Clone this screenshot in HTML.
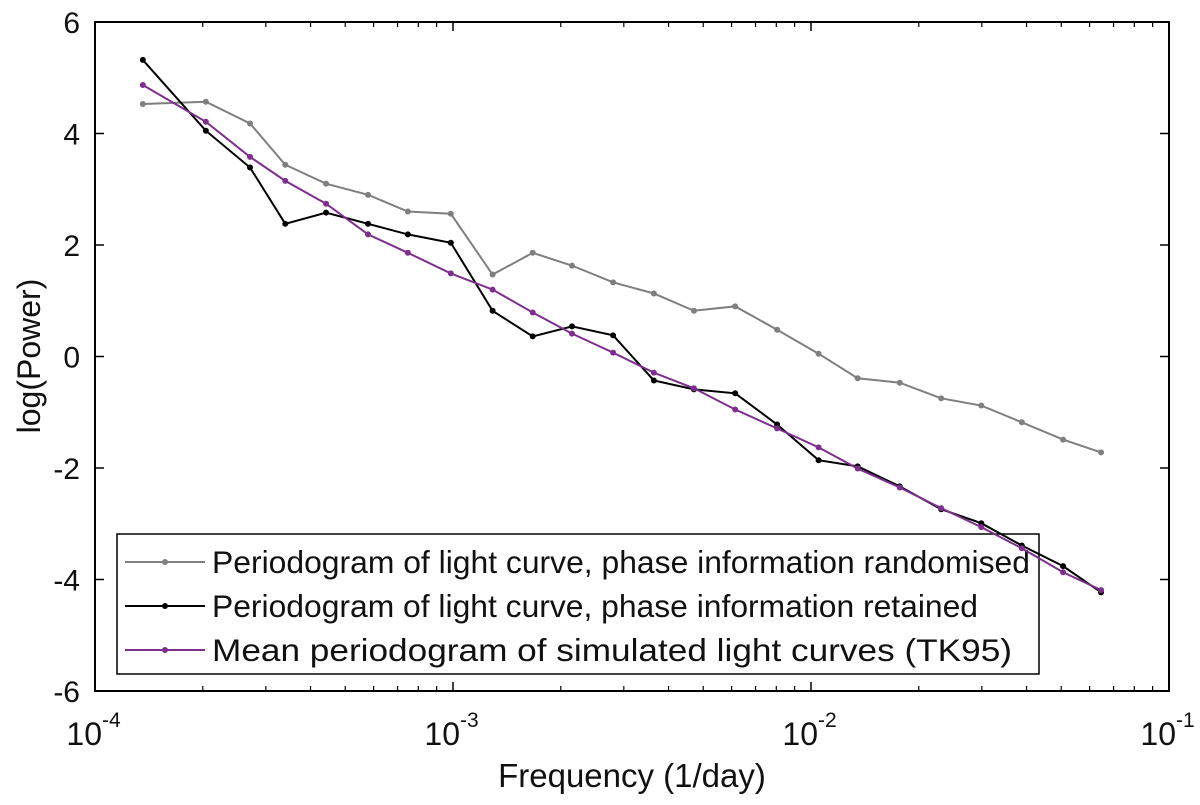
<!DOCTYPE html>
<html><head><meta charset="utf-8"><style>
body{margin:0;background:#fff}
svg text{font-family:"Liberation Sans",Arial,sans-serif;fill:#111}
</style></head><body>
<svg id="chart" width="1200" height="800" xmlns="http://www.w3.org/2000/svg">
<g id="axes"></g>
<g id="legend"></g>
<g id="series"></g>
</svg>
<script>
const freq = [1.36e-4,2.04e-4,2.71e-4,3.40e-4,4.42e-4,5.79e-4,7.48e-4,9.86e-4,1.29e-3,1.67e-3,2.15e-3,2.80e-3,3.64e-3,4.71e-3,6.14e-3,8.04e-3,1.05e-2,1.35e-2,1.77e-2,2.31e-2,2.99e-2,3.88e-2,5.06e-2,6.46e-2];
const randomised = [4.53,4.57,4.18,3.44,3.10,2.90,2.60,2.56,1.47,1.86,1.63,1.33,1.13,0.82,0.90,0.48,0.05,-0.39,-0.47,-0.75,-0.88,-1.18,-1.49,-1.72];
const retained = [5.32,4.05,3.39,2.38,2.58,2.38,2.19,2.04,0.82,0.36,0.54,0.38,-0.43,-0.59,-0.66,-1.22,-1.86,-1.97,-2.33,-2.74,-2.99,-3.39,-3.76,-4.23];
const simulated = [4.87,4.21,3.58,3.15,2.74,2.19,1.86,1.49,1.20,0.79,0.41,0.07,-0.29,-0.57,-0.95,-1.29,-1.63,-2.01,-2.35,-2.72,-3.06,-3.44,-3.87,-4.19];
const yTicks = [-6,-4,-2,0,2,4,6];
const xDecades = [-4,-3,-2,-1];
const legendLabels = ["Periodogram of light curve, phase information randomised","Periodogram of light curve, phase information retained","Mean periodogram of simulated light curves (TK95)"];
const legendWidths = [818,766,800];

const L=95,R=1169,T=22,B=691;
const NS="http://www.w3.org/2000/svg";
function xs(f){return L+(Math.log10(f)+4)/3*(R-L);}
function ys(v){return B-(v+6)/12*(B-T);}
function mk(tag,attrs,parent){const e=document.createElementNS(NS,tag);for(const k in attrs)e.setAttribute(k,attrs[k]);parent.appendChild(e);return e;}
const ax=document.getElementById('axes'),sg=document.getElementById('series'),lg=document.getElementById('legend');

const box=mk('rect',{x:L,y:T,width:R-L,height:B-T,fill:'none',stroke:'#000','stroke-width':2},ax);



yTicks.forEach(v=>{
  const y=ys(v);
  mk('line',{x1:L,x2:L+9,y1:y,y2:y,stroke:'#000','stroke-width':1.5},ax);
  mk('line',{x1:R,x2:R-9,y1:y,y2:y,stroke:'#000','stroke-width':1.5},ax);
  const t=mk('text',{x:L-15,y:y+11,'text-anchor':'end','font-size':30},ax);
  t.textContent=v;
  
  
});
xDecades.forEach((d,i)=>{
  const x=xs(Math.pow(10,d));
  mk('line',{x1:x,x2:x,y1:B,y2:B-9,stroke:'#000','stroke-width':1.5},ax);
  mk('line',{x1:x,x2:x,y1:T,y2:T+9,stroke:'#000','stroke-width':1.5},ax);
  if(i<xDecades.length-1){for(let m=2;m<10;m++){const xm=xs(m*Math.pow(10,d));
    mk('line',{x1:xm,x2:xm,y1:B,y2:B-5,stroke:'#000','stroke-width':1.2},ax);
    mk('line',{x1:xm,x2:xm,y1:T,y2:T+5,stroke:'#000','stroke-width':1.2},ax);}}
  const t=mk('text',{x:x+7,y:745,'text-anchor':'end','font-size':32},ax);
  t.textContent='10';
  
  
  const s=mk('text',{x:x+7,y:727,'text-anchor':'start','font-size':21},ax);
  s.textContent=String(d);
  
  
});
const xt=mk('text',{x:632,y:787,'text-anchor':'middle','font-size':33},ax);
xt.textContent='Frequency (1/day)';


const yt=mk('text',{x:0,y:0,'text-anchor':'middle','font-size':32,transform:'translate(40,356) rotate(-90)'},ax);
yt.textContent='log(Power)';



const colors=['#7f7f7f','#000000','#7e2f8e'];
const names=['series-randomised','series-retained','series-simulated'];
[randomised,retained,simulated].forEach((vals,si)=>{
  const g=mk('g',{},sg);
  
  
  const pts=vals.map((v,i)=>xs(freq[i])+','+ys(v)).join(' ');
  mk('polyline',{points:pts,fill:'none',stroke:colors[si],'stroke-width':2},g);
  vals.forEach((v,i)=>{
    const c=mk('circle',{cx:xs(freq[i]),cy:ys(v),r:3,fill:colors[si]},g);
    
    
  });
});

const lb=mk('rect',{x:117,y:534,width:922,height:140,fill:'none',stroke:'#000','stroke-width':1.5},lg);


legendLabels.forEach((lab,i)=>{
  const y=562+i*44;
  const g=mk('g',{},lg);
  
  
  mk('line',{x1:125,x2:205,y1:y,y2:y,stroke:colors[i],'stroke-width':2},g);
  mk('circle',{cx:165,cy:y,r:3,fill:colors[i]},g);
  const t=mk('text',{x:212,y:y+11,'font-size':31.5,textLength:legendWidths[i],lengthAdjust:'spacingAndGlyphs'},g);
  t.textContent=lab;
});
</script>
</body></html>
